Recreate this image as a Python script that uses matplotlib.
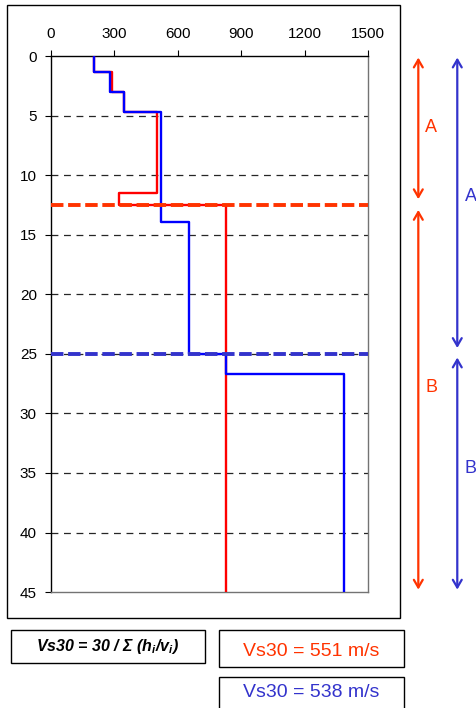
import numpy as np
import matplotlib
matplotlib.use('Agg')
import matplotlib.pyplot as plt
from matplotlib.patches import Rectangle

plt.rcParams['font.family'] = ['Liberation Sans', 'DejaVu Sans']
plt.rcParams['mathtext.fontset'] = 'custom'
plt.rcParams['mathtext.it'] = 'Liberation Sans:italic:bold'
plt.rcParams['mathtext.rm'] = 'Liberation Sans:bold:italic'

# layer tops / bottoms (m) and shear-wave velocity (m/s)
red_top = [0, 1.3, 3.0, 4.7, 11.45, 12.5]
red_bot = [1.3, 3.0, 4.7, 11.45, 12.5, 45]
red_vs = [207, 288, 346, 503, 321, 830]

blue_top = [0, 1.3, 3.0, 4.7, 13.9, 25.0, 26.7]
blue_bot = [1.3, 3.0, 4.7, 13.9, 25.0, 26.7, 45]
blue_vs = [207, 278, 346, 520, 651, 830, 1387]

red_split = 12.5
blue_split = 25.0

# zone arrows: (start depth, end depth)
red_zones = [(0.1, 12.0), (12.9, 44.8)]
blue_zones = [(0.1, 24.5), (25.3, 44.8)]
red_labels = ['A', 'B']
blue_labels = ['A', 'B']
red_label_y = [6.0, 27.8]
blue_label_y = [11.8, 34.6]

vs30_red = 551
vs30_blue = 538

c_red = '#FF3300'
c_blue = '#3333CC'

def profile(tops, bots, vs):
    d = np.column_stack([tops, bots]).ravel()
    v = np.repeat(vs, 2)
    return v, d

fig = plt.figure(figsize=(4.76, 7.08), dpi=100)
ax = fig.add_axes([0.1064, 0.1638, 0.6674, 0.7566])

for y in range(5, 45, 5):
    ax.axhline(y, color='0.15', lw=0.9, ls=(0, (5.5, 4.5)), zorder=1)

ax.axhline(red_split, color=c_red, lw=2.8, ls=(0, (3.2, 1.2)), zorder=4)
ax.axhline(blue_split, color=c_blue, lw=2.8, ls=(0, (3.2, 1.2)), zorder=4)

rv, rd = profile(red_top, red_bot, red_vs)
bv, bd = profile(blue_top, blue_bot, blue_vs)
ax.plot(rv, rd, color='#FF0000', lw=1.7, zorder=3)
ax.plot(bv, bd, color='#0000FF', lw=1.7, zorder=3)

ax.set_xlim(0, 1500)
ax.set_ylim(45, 0)
ax.set_xticks(range(0, 1501, 300))
ax.set_yticks(range(0, 46, 5))
ax.xaxis.tick_top()
ax.tick_params(axis='both', labelsize=11, length=4, width=0.8, direction='out')
ax.tick_params(axis='x', pad=7)
ax.tick_params(axis='y', pad=6)
ax.spines['top'].set_color('black')
ax.spines['left'].set_color('black')
ax.spines['right'].set_color('0.45')
ax.spines['bottom'].set_color('0.45')
for s in ax.spines.values():
    s.set_linewidth(1.0)

# zone arrows outside the plot
def zone_arrows(x, zones, labels, label_x, label_y, color):
    for (d0, d1), lab, ly in zip(zones, labels, label_y):
        ax.annotate('', xy=(x, d1), xytext=(x, d0), annotation_clip=False,
                    arrowprops=dict(arrowstyle='<->,head_length=0.55,head_width=0.32',
                                    color=color, lw=1.6, shrinkA=0, shrinkB=0))
        ax.text(label_x, ly, lab, color=color, fontsize=13, ha='left', va='center',
                clip_on=False)

zone_arrows(1736, red_zones, red_labels, 1768, red_label_y, c_red)
zone_arrows(1920, blue_zones, blue_labels, 1955, blue_label_y, c_blue)

# outer frame and text boxes
fig.patches.append(Rectangle((0.0147, 0.1271), 0.8256, 0.8658, transform=fig.transFigure,
                             fill=False, ec='black', lw=1.0))
fig.patches.append(Rectangle((0.0231, 0.0636), 0.4076, 0.0466, transform=fig.transFigure,
                             fill=False, ec='black', lw=1.0))
fig.patches.append(Rectangle((0.4601, 0.0579), 0.3881, 0.0523, transform=fig.transFigure,
                             fill=False, ec='black', lw=1.0))
fig.patches.append(Rectangle((0.4601, -0.02), 0.3881, 0.0638, transform=fig.transFigure,
                             fill=False, ec='black', lw=1.0))

fig.text(0.227, 0.0875, r'Vs30 = 30 / $\Sigma$ (h$_i$/v$_i$)', fontsize=11.5,
         fontweight='bold', style='italic', ha='center', va='center')
fig.text(0.654, 0.0805, f'Vs30 = {vs30_red} m/s', color=c_red, fontsize=14,
         ha='center', va='center')
fig.text(0.654, 0.0215, f'Vs30 = {vs30_blue} m/s', color=c_blue, fontsize=14,
         ha='center', va='center')

fig.savefig('out.png', dpi=100)
